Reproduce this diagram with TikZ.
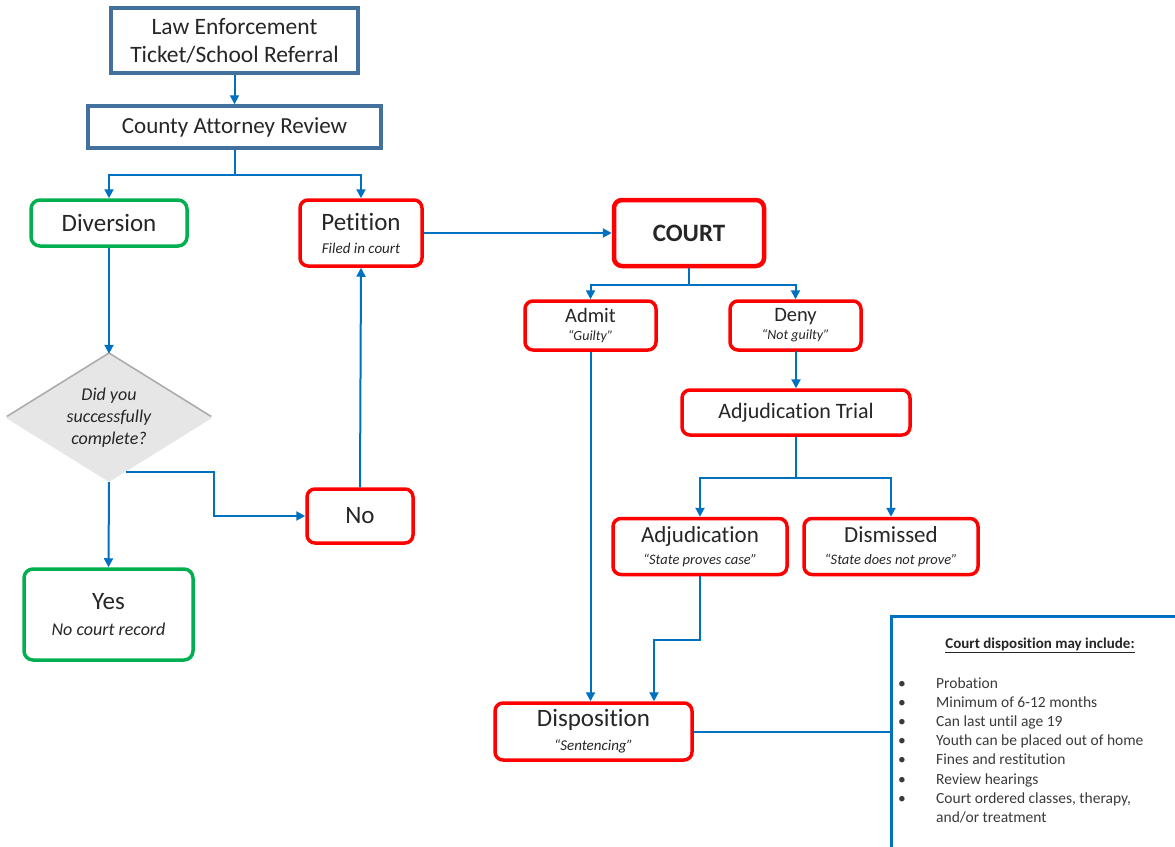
\documentclass[tikz,border=0pt]{standalone}
\usepackage{fontspec}
\setmainfont{Carlito}[RawFeature={-liga;-clig;-calt}]
\usetikzlibrary{arrows.meta,shapes.geometric,shadows,calc}
\definecolor{ink}{HTML}{262626}
\definecolor{listink}{HTML}{3A3A3A}
\definecolor{slate}{HTML}{41719C}
\definecolor{arrblue}{HTML}{0070C0}
\definecolor{rd}{HTML}{FF0000}
\definecolor{grn}{HTML}{00B050}
\definecolor{diafill}{HTML}{E6E6E6}
\newcommand\fsz[2]{\fontsize{#1}{#2}\selectfont}
\tikzset{
  arr/.style={draw=arrblue, line width=2pt, -{Triangle[length=9pt,width=9pt]}},
  lnk/.style={draw=arrblue, line width=2pt},
  sbox/.style={draw=slate, line width=3.5pt, fill=white, text=ink, inner sep=0pt, align=center},
  rbox/.style={draw=rd, line width=3.5pt, rounded corners=8pt, fill=white, text=ink, inner sep=0pt, align=center},
  gbox/.style={draw=grn, line width=3.5pt, rounded corners=9pt, fill=white, text=ink, inner sep=0pt, align=center},
}
\begin{document}
\begin{tikzpicture}[x=1pt,y=-1pt]
\useasboundingbox (0,0) rectangle (1175,846);
\clip (0,0) rectangle (1175,846);
\fill[white] (0,0) rectangle (1175,846);

% top boxes
\node[sbox, minimum width=247, minimum height=65, font=\fsz{23.5}{28}] (law) at (234.5,40.5) {Law Enforcement\\Ticket/School Referral};
\node[sbox, minimum width=293, minimum height=42, font=\fsz{23}{27}] (car) at (234.5,127) {County Attorney Review};

% diversion side
\node[diamond, aspect=1.6, minimum width=206, minimum height=128, inner sep=0pt, fill=diafill, text=ink,
      align=center, font=\fsz{18}{22}\itshape,
      drop shadow={shadow xshift=0pt, shadow yshift=2pt, opacity=0.55, fill=black!60}] (dia) at (109,418)
      {Did you\\successfully\\complete?};
\node[gbox, minimum width=156, minimum height=46, font=\fsz{25}{29}] (div) at (109,223) {Diversion};
\node[gbox, minimum width=169, minimum height=91, font=\fsz{25}{29}] (yes) at (108.5,614.5)
      {Yes\\[-3pt]{\fsz{18}{22}\itshape No court record}};
\node[rbox, minimum width=106, minimum height=54, font=\fsz{25}{29}] (no) at (360,516) {No};
\node[rbox, minimum width=122, minimum height=66, font=\fsz{25}{29}] (pet) at (361,233)
      {Petition\\[-6pt]{\fsz{15}{18}\itshape Filed in court}};

% court side
\node[rbox, line width=4.5pt, minimum width=150, minimum height=66, font=\fsz{25}{29}\bfseries] (court) at (689,233) {COURT};
\node[rbox, minimum width=131, minimum height=49, font=\fsz{20.5}{24}] (admit) at (590.5,325.5)
      {Admit\\[-6pt]{\fsz{14}{16}\itshape “Guilty”}};
\node[rbox, minimum width=131, minimum height=49, font=\fsz{20.5}{24}] (deny) at (795.5,325.5)
      {Deny\\[-6pt]{\fsz{14}{16}\itshape “Not guilty”}};
\node[rbox, minimum width=228, minimum height=45, font=\fsz{22}{26}] (trial) at (796,412.5) {Adjudication Trial};
\node[rbox, minimum width=174, minimum height=56, font=\fsz{23}{27}] (adj) at (700,546.5)
      {Adjudication\\[-5pt]{\fsz{14.5}{17}\itshape “State proves case”}};
\node[rbox, minimum width=174, minimum height=56, font=\fsz{23}{27}] (dis) at (891,546.5)
      {Dismissed\\[-5pt]{\fsz{14.5}{17}\itshape “State does not prove”}};
\node[rbox, minimum width=197, minimum height=57, font=\fsz{25}{29}] (disp) at (593.5,731.5)
      {Disposition\\[-5pt]{\fsz{15}{18}\itshape “Sentencing”}};

% callout
\node[draw=arrblue, line width=3pt, minimum width=300, minimum height=250, anchor=north west, inner sep=0pt] (callout) at (890,615) {};
\node[anchor=base, inner sep=0pt, text=ink, font=\fsz{15}{18}\bfseries] (ctitle) at (1040,648) {\underline{Court disposition may include:}};
\node[anchor=base west, inner sep=0pt, text=listink, font=\fsz{15.5}{19.2}] (clist) at (898,688)
 {\begin{tabular}[t]{@{}p{38pt}@{}l@{}}
 \textbullet & Probation\\
 \textbullet & Minimum of 6-12 months\\
 \textbullet & Can last until age 19\\
 \textbullet & Youth can be placed out of home\\
 \textbullet & Fines and restitution\\
 \textbullet & Review hearings\\
 \textbullet & Court ordered classes, therapy,\\
  & and/or treatment
 \end{tabular}};

% connectors
\draw[arr] (law.south) -- (car.north);
\draw[arr] (car.south) -- ++(0,25) -| (div.north);
\draw[arr] (car.south) -- ++(0,25) -| (pet.north);
\draw[arr] (pet.east) -- (court.west);
\draw[arr] (div.south) -- (dia.north);
\draw[arr] (dia.south) -- (yes.north);
\coordinate (dp) at ($(dia.south)!0.16!(dia.east)$);
\coordinate (kx) at (214,0);
\draw[arr] (dp) -- (dp -| kx) |- (no.west);
\draw[arr] (no.north) -- (pet.south);
\draw[arr] (court.south) -- ++(0,17) -| (admit.north);
\draw[arr] (court.south) -- ++(0,17) -| (deny.north);
\draw[arr] (deny.south) -- (deny.south -| trial.north) -- (trial.north);
\draw[arr] (trial.south) -- ++(0,41) -| (adj.north);
\draw[arr] (trial.south) -- ++(0,41) -| (dis.north);
\draw[arr] (admit.south) -- (admit.south |- disp.north);
\coordinate (dx) at (654,0);
\draw[arr] (adj.south) -- ++(0,64) -| (dx |- disp.north);
\draw[lnk] (disp.east) -- (disp.east -| callout.west);
\end{tikzpicture}
\end{document}
